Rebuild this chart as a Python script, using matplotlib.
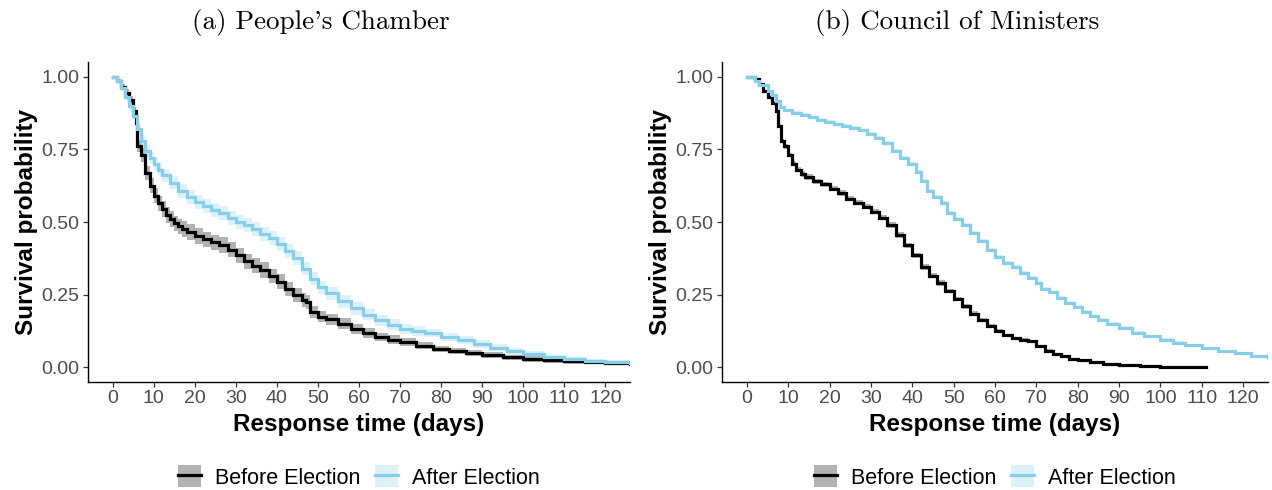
import matplotlib
matplotlib.use("Agg")
import matplotlib.pyplot as plt
from matplotlib.patches import Patch
from matplotlib.lines import Line2D
import numpy as np

plt.rcParams['font.family'] = ['Liberation Sans', 'DejaVu Sans']

# ---------------- data ----------------
titles = ["(a) People's Chamber", "(b) Council of Ministers"]
series_labels = ["Before Election", "After Election"]
xticks = list(range(0, 121, 10))
yticks = [0.0, 0.25, 0.5, 0.75, 1.0]
ytick_labels = ["0.00", "0.25", "0.50", "0.75", "1.00"]

# People's Chamber - Before Election
lb_t = [0, 1, 2, 3, 4, 5, 5.7, 6, 7, 8, 9, 10, 11, 12, 13, 14, 15, 16, 17, 18, 20, 22, 24, 26,
        28, 30, 32, 34, 36, 38, 40, 42, 44, 46, 47, 48, 50, 52, 55, 58, 61, 64, 67, 70, 74, 78,
        82, 86, 90, 95, 100, 105, 110, 115, 120, 126]
lb_s = [1.0, 0.985, 0.965, 0.945, 0.92, 0.88, 0.84, 0.76, 0.73, 0.67, 0.625, 0.59,
        0.565, 0.545, 0.525, 0.51, 0.495, 0.485, 0.475, 0.465, 0.452, 0.44, 0.43, 0.42,
        0.405, 0.385, 0.365, 0.35, 0.335, 0.315, 0.295, 0.27, 0.25, 0.232, 0.225, 0.19,
        0.175, 0.165, 0.15, 0.133, 0.118, 0.105, 0.096, 0.088, 0.075, 0.063, 0.056, 0.05,
        0.043, 0.035, 0.029, 0.025, 0.021, 0.018, 0.015, 0.012]
lb_hw = [0.004, 0.006, 0.009, 0.011, 0.014, 0.016, 0.019, 0.021, 0.023, 0.024, 0.025, 0.026,
         0.026, 0.027, 0.027, 0.027, 0.027, 0.027, 0.027, 0.027, 0.027, 0.027, 0.027, 0.027,
         0.027, 0.027, 0.026, 0.026, 0.026, 0.025, 0.025, 0.025, 0.024, 0.024, 0.023, 0.021,
         0.02, 0.02, 0.019, 0.018, 0.016, 0.015, 0.015, 0.014, 0.013, 0.011, 0.011, 0.01,
         0.01, 0.009, 0.009, 0.008, 0.008, 0.007, 0.007, 0.007]

# People's Chamber - After Election
la_t = [0, 1, 2, 3, 4, 5, 6, 7, 8, 9, 10, 11, 12, 14, 16, 18, 20, 22, 24, 26, 28, 30, 32, 34,
        36, 38, 40, 42, 44, 46, 48, 50, 52, 55, 58, 61, 64, 67, 70, 73, 76, 80, 84, 88, 92,
        96, 100, 105, 110, 115, 120, 126]
la_s = [1.0, 0.985, 0.96, 0.93, 0.9, 0.865, 0.82, 0.78, 0.745, 0.72, 0.7, 0.68, 0.66,
        0.635, 0.605, 0.585, 0.57, 0.555, 0.54, 0.53, 0.515, 0.5, 0.49, 0.475, 0.46,
        0.445, 0.425, 0.4, 0.375, 0.34, 0.305, 0.275, 0.255, 0.228, 0.203, 0.182, 0.162,
        0.147, 0.132, 0.125, 0.118, 0.105, 0.093, 0.08, 0.068, 0.055, 0.045, 0.035, 0.028,
        0.022, 0.018, 0.015]
la_hw = [0.004, 0.006, 0.009, 0.011, 0.014, 0.015, 0.017, 0.019, 0.02, 0.021, 0.022, 0.022,
         0.023, 0.023, 0.024, 0.024, 0.024, 0.024, 0.024, 0.024, 0.024, 0.024, 0.024, 0.024,
         0.024, 0.024, 0.024, 0.024, 0.024, 0.023, 0.023, 0.023, 0.022, 0.022, 0.021, 0.02,
         0.019, 0.018, 0.017, 0.016, 0.015, 0.015, 0.014, 0.013, 0.012, 0.011, 0.01, 0.008,
         0.008, 0.007, 0.007, 0.007]

# Council of Ministers - Before Election
rb_t = [0, 2, 3, 4, 5, 6, 7, 7.5, 8.3, 9, 10, 11, 12, 13, 14, 16, 18, 20, 22, 24, 26, 28, 30,
        32, 34, 36, 38, 40, 42, 44, 46, 48, 50, 52, 54, 56, 58, 60, 62, 64, 66, 68, 70, 72,
        74, 76, 78, 80, 83, 86, 90, 95, 100, 105, 111]
rb_s = [1.0, 0.99, 0.975, 0.95, 0.93, 0.91, 0.88, 0.83, 0.78, 0.76, 0.73, 0.7, 0.68, 0.665,
        0.655, 0.64, 0.63, 0.615, 0.6, 0.58, 0.567, 0.553, 0.535, 0.515, 0.49, 0.455, 0.42,
        0.385, 0.345, 0.315, 0.29, 0.263, 0.235, 0.21, 0.185, 0.162, 0.142, 0.125, 0.11,
        0.1, 0.095, 0.09, 0.073, 0.057, 0.045, 0.038, 0.03, 0.025, 0.019, 0.012, 0.008,
        0.004, 0.003, 0.002, 0.001]
rb_hw = [0.001, 0.002, 0.003, 0.004, 0.005, 0.005, 0.006, 0.007, 0.007, 0.008, 0.008, 0.008,
         0.009, 0.009, 0.009, 0.009, 0.009, 0.009, 0.009, 0.009, 0.009, 0.009, 0.009, 0.009,
         0.009, 0.009, 0.009, 0.009, 0.009, 0.009, 0.009, 0.008, 0.008, 0.008, 0.008, 0.007,
         0.007, 0.007, 0.006, 0.006, 0.006, 0.006, 0.005, 0.005, 0.005, 0.004, 0.004, 0.004,
         0.003, 0.002, 0.002, 0.001, 0.001, 0.001, 0.001]

# Council of Ministers - After Election
ra_t = [0, 2, 3, 5, 6, 7, 8, 9, 11, 13, 15, 17, 19, 21, 23, 25, 27, 29, 31, 33, 35, 37, 39, 41,
        42, 43.5, 45, 47, 48.5, 50, 52, 54, 56, 58, 60, 62, 64, 66, 68, 70, 71, 73, 75, 77,
        79, 81, 83, 85, 87, 90, 93, 96, 100, 103, 106, 110, 114, 118, 122, 126, 130]
ra_s = [1.0, 0.985, 0.97, 0.95, 0.935, 0.915, 0.895, 0.885, 0.876, 0.868, 0.86, 0.851, 0.843,
        0.836, 0.83, 0.823, 0.815, 0.802, 0.79, 0.772, 0.745, 0.72, 0.7, 0.672, 0.64, 0.605,
        0.585, 0.565, 0.53, 0.51, 0.49, 0.462, 0.435, 0.405, 0.38, 0.36, 0.345, 0.325,
        0.308, 0.29, 0.27, 0.258, 0.24, 0.222, 0.207, 0.192, 0.178, 0.163, 0.15, 0.135,
        0.12, 0.108, 0.096, 0.085, 0.076, 0.066, 0.057, 0.048, 0.04, 0.032, 0.025]
ra_hw = ([0.001, 0.002, 0.003, 0.004, 0.004, 0.005, 0.005, 0.005] + [0.006] * 16 +
         [0.007] * 17 + [0.006] * 8 +
         [0.006, 0.006, 0.005, 0.005, 0.005, 0.005, 0.004, 0.004, 0.004, 0.004, 0.004, 0.004])

panels = [
    [(lb_t, lb_s, lb_hw), (la_t, la_s, la_hw)],
    [(rb_t, rb_s, rb_hw), (ra_t, ra_s, ra_hw)],
]

# ---------------- style ----------------
line_colors = ["#000000", "#87CEEB"]
band_colors = [("#000000", 0.30), ("#87CEEB", 0.28)]
tick_col = "#4d4d4d"

W, H = 1272, 490
fig = plt.figure(figsize=(W / 100, H / 100), dpi=100)

axes_px = [(88, 630), (722, 1268)]
top_px, bot_px = 62, 382
title_x = [321, 957]

for i, ((x0, x1), data) in enumerate(zip(axes_px, panels)):
    ax = fig.add_axes([x0 / W, 1 - bot_px / H, (x1 - x0) / W, (bot_px - top_px) / H])
    for j, (t, s, hw) in enumerate(data):
        t = np.asarray(t, float)
        s = np.asarray(s, float)
        hw = np.asarray(hw, float)
        bc, ba = band_colors[j]
        ax.fill_between(t, np.clip(s - hw, 0, 1), np.clip(s + hw, 0, 1), step='post',
                        color=bc, alpha=ba, linewidth=0)
        ax.step(t, s, where='post', color=line_colors[j], lw=2.3, solid_joinstyle='miter')
    ax.set_xlim(-6, 126)
    ax.set_ylim(-0.05, 1.05)
    ax.set_xticks(xticks)
    ax.set_yticks(yticks)
    ax.set_yticklabels(ytick_labels)
    for sp in ['top', 'right']:
        ax.spines[sp].set_visible(False)
    for sp in ['left', 'bottom']:
        ax.spines[sp].set_color('black')
        ax.spines[sp].set_linewidth(1.0)
    ax.tick_params(axis='both', length=3.5, width=0.9, color='#333333', labelcolor=tick_col,
                   labelsize=14, pad=2.5)
    ax.set_xlabel("Response time (days)", fontsize=17.5, fontweight='bold', labelpad=4)
    ax.set_ylabel("Survival probability", fontsize=17.5, fontweight='bold', labelpad=3)

    handles = []
    for j in range(2):
        bc, ba = band_colors[j]
        handles.append((Patch(facecolor=bc, alpha=ba, edgecolor='none'),
                        Line2D([], [], color=line_colors[j], lw=2.3)))
    ax.legend(handles, series_labels, loc='center', bbox_to_anchor=(0.5, -0.297),
              ncol=2, frameon=False, fontsize=15.5, handlelength=1.07,
              handleheight=1.2, handletextpad=0.65, columnspacing=0.7)

    fig.text(title_x[i] / W, 1 - 22 / H, titles[i], family='cmr10', fontsize=19.5,
             ha='center', va='center')

fig.savefig("out.png", dpi=100)
